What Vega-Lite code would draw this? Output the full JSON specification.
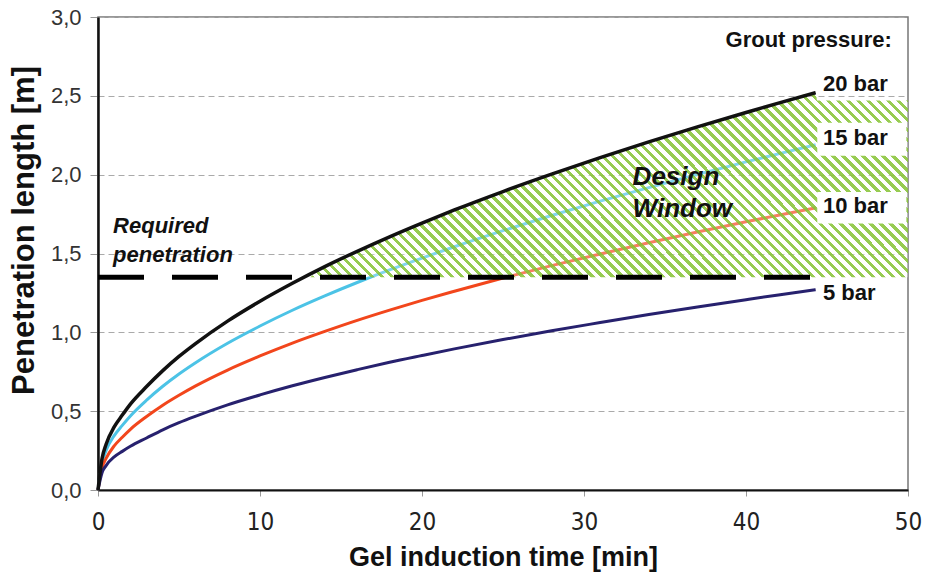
{
  "$schema": "https://vega.github.io/schema/vega-lite/v6.json",
  "width": 810,
  "height": 473,
  "autosize": {"type": "none"},
  "padding": {"left": 98, "top": 17, "right": 18, "bottom": 85},
  "background": "white",
  "config": {"view": {"stroke": "#777", "strokeWidth": 1.5}, "font": "Liberation Sans"},
  "datasets": {
    "curves": [
      {"p":"20 bar","t":0,"len":0},{"p":"20 bar","t":0.25,"len":0.2},{"p":"20 bar","t":0.5,"len":0.29},{"p":"20 bar","t":1,"len":0.4},{"p":"20 bar","t":1.5,"len":0.475},{"p":"20 bar","t":2,"len":0.545},{"p":"20 bar","t":3,"len":0.656},{"p":"20 bar","t":4,"len":0.757},{"p":"20 bar","t":5,"len":0.847},{"p":"20 bar","t":6,"len":0.927},{"p":"20 bar","t":8,"len":1.071},{"p":"20 bar","t":10,"len":1.197},{"p":"20 bar","t":12,"len":1.311},{"p":"20 bar","t":14,"len":1.417},{"p":"20 bar","t":16,"len":1.514},{"p":"20 bar","t":18,"len":1.606},{"p":"20 bar","t":20,"len":1.693},{"p":"20 bar","t":22,"len":1.776},{"p":"20 bar","t":25,"len":1.893},{"p":"20 bar","t":28,"len":2.003},{"p":"20 bar","t":31,"len":2.108},{"p":"20 bar","t":34,"len":2.208},{"p":"20 bar","t":37,"len":2.303},{"p":"20 bar","t":40,"len":2.394},{"p":"20 bar","t":42,"len":2.454},{"p":"20 bar","t":44.3,"len":2.52},
      {"p":"15 bar","t":0,"len":0},{"p":"15 bar","t":0.25,"len":0.17},{"p":"15 bar","t":0.5,"len":0.25},{"p":"15 bar","t":1,"len":0.345},{"p":"15 bar","t":1.5,"len":0.41},{"p":"15 bar","t":2,"len":0.47},{"p":"15 bar","t":3,"len":0.57},{"p":"15 bar","t":4,"len":0.658},{"p":"15 bar","t":5,"len":0.736},{"p":"15 bar","t":6,"len":0.806},{"p":"15 bar","t":8,"len":0.931},{"p":"15 bar","t":10,"len":1.04},{"p":"15 bar","t":12,"len":1.14},{"p":"15 bar","t":14,"len":1.231},{"p":"15 bar","t":16,"len":1.316},{"p":"15 bar","t":18,"len":1.396},{"p":"15 bar","t":20,"len":1.471},{"p":"15 bar","t":22,"len":1.543},{"p":"15 bar","t":25,"len":1.645},{"p":"15 bar","t":28,"len":1.741},{"p":"15 bar","t":31,"len":1.832},{"p":"15 bar","t":34,"len":1.918},{"p":"15 bar","t":37,"len":2.001},{"p":"15 bar","t":40,"len":2.081},{"p":"15 bar","t":42,"len":2.132},{"p":"15 bar","t":44.3,"len":2.19},
      {"p":"10 bar","t":0,"len":0},{"p":"10 bar","t":0.25,"len":0.14},{"p":"10 bar","t":0.5,"len":0.2},{"p":"10 bar","t":1,"len":0.28},{"p":"10 bar","t":1.5,"len":0.335},{"p":"10 bar","t":2,"len":0.385},{"p":"10 bar","t":3,"len":0.466},{"p":"10 bar","t":4,"len":0.538},{"p":"10 bar","t":5,"len":0.601},{"p":"10 bar","t":6,"len":0.659},{"p":"10 bar","t":8,"len":0.761},{"p":"10 bar","t":10,"len":0.85},{"p":"10 bar","t":12,"len":0.932},{"p":"10 bar","t":14,"len":1.006},{"p":"10 bar","t":16,"len":1.076},{"p":"10 bar","t":18,"len":1.141},{"p":"10 bar","t":20,"len":1.203},{"p":"10 bar","t":22,"len":1.261},{"p":"10 bar","t":25,"len":1.345},{"p":"10 bar","t":28,"len":1.423},{"p":"10 bar","t":31,"len":1.497},{"p":"10 bar","t":34,"len":1.568},{"p":"10 bar","t":37,"len":1.636},{"p":"10 bar","t":40,"len":1.701},{"p":"10 bar","t":42,"len":1.743},{"p":"10 bar","t":44.3,"len":1.79},
      {"p":"5 bar","t":0,"len":0},{"p":"5 bar","t":0.25,"len":0.11},{"p":"5 bar","t":0.5,"len":0.155},{"p":"5 bar","t":1,"len":0.21},{"p":"5 bar","t":1.5,"len":0.245},{"p":"5 bar","t":2,"len":0.277},{"p":"5 bar","t":3,"len":0.33},{"p":"5 bar","t":4,"len":0.382},{"p":"5 bar","t":5,"len":0.427},{"p":"5 bar","t":6,"len":0.467},{"p":"5 bar","t":8,"len":0.54},{"p":"5 bar","t":10,"len":0.603},{"p":"5 bar","t":12,"len":0.661},{"p":"5 bar","t":14,"len":0.714},{"p":"5 bar","t":16,"len":0.763},{"p":"5 bar","t":18,"len":0.81},{"p":"5 bar","t":20,"len":0.853},{"p":"5 bar","t":22,"len":0.895},{"p":"5 bar","t":25,"len":0.954},{"p":"5 bar","t":28,"len":1.01},{"p":"5 bar","t":31,"len":1.062},{"p":"5 bar","t":34,"len":1.113},{"p":"5 bar","t":37,"len":1.161},{"p":"5 bar","t":40,"len":1.207},{"p":"5 bar","t":42,"len":1.237},{"p":"5 bar","t":44.3,"len":1.27}
    ],
    "hatch": [
      {"t":13.1,"top":1.35,"base":1.35},{"t":14,"top":1.417,"base":1.35},{"t":16,"top":1.514,"base":1.35},{"t":18,"top":1.606,"base":1.35},{"t":20,"top":1.693,"base":1.35},{"t":22,"top":1.776,"base":1.35},{"t":25,"top":1.893,"base":1.35},{"t":28,"top":2.003,"base":1.35},{"t":31,"top":2.108,"base":1.35},{"t":34,"top":2.208,"base":1.35},{"t":37,"top":2.303,"base":1.35},{"t":40,"top":2.394,"base":1.35},{"t":42,"top":2.454,"base":1.35},{"t":44.3,"top":2.52,"base":1.35},{"t":44.4,"top":2.47,"base":1.35},{"t":50,"top":2.47,"base":1.35}
    ],
    "required": [{"t":0,"len":1.35},{"t":44.4,"len":1.35}],
    "boxes": [{"t1":44.4,"t2":49.9,"lo":2.12,"hi":2.33},{"t1":44.4,"t2":49.9,"lo":1.69,"hi":1.89}],
    "plabels": [{"t":44.75,"len":2.53,"label":"20 bar"},{"t":44.75,"len":2.19,"label":"15 bar"},{"t":44.75,"len":1.757,"label":"10 bar"},{"t":44.75,"len":1.205,"label":"5 bar"}],
    "grout": [{"t":49.0,"len":2.81,"label":"Grout pressure:"}],
    "req": [{"t":0.93,"len":1.63,"label":"Required"},{"t":0.93,"len":1.446,"label":"penetration"}],
    "design": [{"t":33.0,"len":1.934,"label":"Design"},{"t":33.0,"len":1.731,"label":"Window"}]
  },
  "layer": [
    {
      "data": {"name": "curves"},
      "transform": [{"filter": "datum.p !== '20 bar'"}],
      "mark": {"type": "line", "interpolate": "monotone", "strokeWidth": 3},
      "encoding": {
        "x": {"field": "t", "type": "quantitative", "title": "Gel induction time [min]", "scale": {"domain": [0, 50], "nice": false},
          "axis": {"values": [0,10,20,30,40,50], "format": "d", "grid": false,
            "tickColor": "#999", "tickSize": 6, "labelPadding": 14, "labelFontSize": 24, "labelFont": "Liberation Sans Narrow, DejaVu Sans Condensed, Liberation Sans",
            "labelColor": "#222", "labelFlush": false, "labelOverlap": false, "domainColor": "#111", "domainWidth": 2,
            "titleFontSize": 27, "titleFontWeight": "bold", "titleColor": "#111", "titleY": 54, "titleBaseline": "top"}},
        "y": {"field": "len", "type": "quantitative", "title": "Penetration length [m]", "scale": {"domain": [0, 3], "nice": false},
          "axis": {"values": [0,0.5,1,1.5,2,2.5,3], "labelExpr": "replace(format(datum.value, '.1f'), '.', ',')",
            "grid": true, "gridColor": "#aaa", "gridDash": [6,4], "gridWidth": 1,
            "tickColor": "#999", "tickSize": 8, "labelPadding": 9, "labelFontSize": 22, "labelColor": "#333", "labelFlush": false, "labelOverlap": false,
            "domainColor": "#111", "domainWidth": 2.5,
            "titleFontSize": 31, "titleFontWeight": "bold", "titleColor": "#111", "titleX": -58, "titleY": 213, "titleBaseline": "bottom"}},
        "color": {"field": "p", "type": "nominal", "scale": {"domain": ["15 bar","10 bar","5 bar"], "range": ["#4cc3e6","#f2461c","#27216e"]}, "legend": null}
      }
    },
    {
      "data": {"name": "hatch"},
      "mark": {"type": "area", "interpolate": "monotone",
        "fill": {"gradient": "linear", "x1": 0, "y1": 1, "x2": 1.1946, "y2": 0.6324, "stops": [
{"offset":0,"color":"rgba(140,198,63,0.9)"},{"offset":0.0058,"color":"rgba(140,198,63,0.9)"},{"offset":0.0058,"color":"rgba(255,255,255,0.3)"},{"offset":0.0128,"color":"rgba(255,255,255,0.3)"},
{"offset":0.0128,"color":"rgba(140,198,63,0.9)"},{"offset":0.0186,"color":"rgba(140,198,63,0.9)"},{"offset":0.0186,"color":"rgba(255,255,255,0.3)"},{"offset":0.0256,"color":"rgba(255,255,255,0.3)"},
{"offset":0.0256,"color":"rgba(140,198,63,0.9)"},{"offset":0.0314,"color":"rgba(140,198,63,0.9)"},{"offset":0.0314,"color":"rgba(255,255,255,0.3)"},{"offset":0.0385,"color":"rgba(255,255,255,0.3)"},
{"offset":0.0385,"color":"rgba(140,198,63,0.9)"},{"offset":0.0442,"color":"rgba(140,198,63,0.9)"},{"offset":0.0442,"color":"rgba(255,255,255,0.3)"},{"offset":0.0513,"color":"rgba(255,255,255,0.3)"},
{"offset":0.0513,"color":"rgba(140,198,63,0.9)"},{"offset":0.0571,"color":"rgba(140,198,63,0.9)"},{"offset":0.0571,"color":"rgba(255,255,255,0.3)"},{"offset":0.0641,"color":"rgba(255,255,255,0.3)"},
{"offset":0.0641,"color":"rgba(140,198,63,0.9)"},{"offset":0.0699,"color":"rgba(140,198,63,0.9)"},{"offset":0.0699,"color":"rgba(255,255,255,0.3)"},{"offset":0.0769,"color":"rgba(255,255,255,0.3)"},
{"offset":0.0769,"color":"rgba(140,198,63,0.9)"},{"offset":0.0827,"color":"rgba(140,198,63,0.9)"},{"offset":0.0827,"color":"rgba(255,255,255,0.3)"},{"offset":0.0897,"color":"rgba(255,255,255,0.3)"},
{"offset":0.0897,"color":"rgba(140,198,63,0.9)"},{"offset":0.0955,"color":"rgba(140,198,63,0.9)"},{"offset":0.0955,"color":"rgba(255,255,255,0.3)"},{"offset":0.1026,"color":"rgba(255,255,255,0.3)"},
{"offset":0.1026,"color":"rgba(140,198,63,0.9)"},{"offset":0.1083,"color":"rgba(140,198,63,0.9)"},{"offset":0.1083,"color":"rgba(255,255,255,0.3)"},{"offset":0.1154,"color":"rgba(255,255,255,0.3)"},
{"offset":0.1154,"color":"rgba(140,198,63,0.9)"},{"offset":0.1212,"color":"rgba(140,198,63,0.9)"},{"offset":0.1212,"color":"rgba(255,255,255,0.3)"},{"offset":0.1282,"color":"rgba(255,255,255,0.3)"},
{"offset":0.1282,"color":"rgba(140,198,63,0.9)"},{"offset":0.134,"color":"rgba(140,198,63,0.9)"},{"offset":0.134,"color":"rgba(255,255,255,0.3)"},{"offset":0.141,"color":"rgba(255,255,255,0.3)"},
{"offset":0.141,"color":"rgba(140,198,63,0.9)"},{"offset":0.1468,"color":"rgba(140,198,63,0.9)"},{"offset":0.1468,"color":"rgba(255,255,255,0.3)"},{"offset":0.1538,"color":"rgba(255,255,255,0.3)"},
{"offset":0.1538,"color":"rgba(140,198,63,0.9)"},{"offset":0.1596,"color":"rgba(140,198,63,0.9)"},{"offset":0.1596,"color":"rgba(255,255,255,0.3)"},{"offset":0.1667,"color":"rgba(255,255,255,0.3)"},
{"offset":0.1667,"color":"rgba(140,198,63,0.9)"},{"offset":0.1724,"color":"rgba(140,198,63,0.9)"},{"offset":0.1724,"color":"rgba(255,255,255,0.3)"},{"offset":0.1795,"color":"rgba(255,255,255,0.3)"},
{"offset":0.1795,"color":"rgba(140,198,63,0.9)"},{"offset":0.1853,"color":"rgba(140,198,63,0.9)"},{"offset":0.1853,"color":"rgba(255,255,255,0.3)"},{"offset":0.1923,"color":"rgba(255,255,255,0.3)"},
{"offset":0.1923,"color":"rgba(140,198,63,0.9)"},{"offset":0.1981,"color":"rgba(140,198,63,0.9)"},{"offset":0.1981,"color":"rgba(255,255,255,0.3)"},{"offset":0.2051,"color":"rgba(255,255,255,0.3)"},
{"offset":0.2051,"color":"rgba(140,198,63,0.9)"},{"offset":0.2109,"color":"rgba(140,198,63,0.9)"},{"offset":0.2109,"color":"rgba(255,255,255,0.3)"},{"offset":0.2179,"color":"rgba(255,255,255,0.3)"},
{"offset":0.2179,"color":"rgba(140,198,63,0.9)"},{"offset":0.2237,"color":"rgba(140,198,63,0.9)"},{"offset":0.2237,"color":"rgba(255,255,255,0.3)"},{"offset":0.2308,"color":"rgba(255,255,255,0.3)"},
{"offset":0.2308,"color":"rgba(140,198,63,0.9)"},{"offset":0.2365,"color":"rgba(140,198,63,0.9)"},{"offset":0.2365,"color":"rgba(255,255,255,0.3)"},{"offset":0.2436,"color":"rgba(255,255,255,0.3)"},
{"offset":0.2436,"color":"rgba(140,198,63,0.9)"},{"offset":0.2494,"color":"rgba(140,198,63,0.9)"},{"offset":0.2494,"color":"rgba(255,255,255,0.3)"},{"offset":0.2564,"color":"rgba(255,255,255,0.3)"},
{"offset":0.2564,"color":"rgba(140,198,63,0.9)"},{"offset":0.2622,"color":"rgba(140,198,63,0.9)"},{"offset":0.2622,"color":"rgba(255,255,255,0.3)"},{"offset":0.2692,"color":"rgba(255,255,255,0.3)"},
{"offset":0.2692,"color":"rgba(140,198,63,0.9)"},{"offset":0.275,"color":"rgba(140,198,63,0.9)"},{"offset":0.275,"color":"rgba(255,255,255,0.3)"},{"offset":0.2821,"color":"rgba(255,255,255,0.3)"},
{"offset":0.2821,"color":"rgba(140,198,63,0.9)"},{"offset":0.2878,"color":"rgba(140,198,63,0.9)"},{"offset":0.2878,"color":"rgba(255,255,255,0.3)"},{"offset":0.2949,"color":"rgba(255,255,255,0.3)"},
{"offset":0.2949,"color":"rgba(140,198,63,0.9)"},{"offset":0.3006,"color":"rgba(140,198,63,0.9)"},{"offset":0.3006,"color":"rgba(255,255,255,0.3)"},{"offset":0.3077,"color":"rgba(255,255,255,0.3)"},
{"offset":0.3077,"color":"rgba(140,198,63,0.9)"},{"offset":0.3135,"color":"rgba(140,198,63,0.9)"},{"offset":0.3135,"color":"rgba(255,255,255,0.3)"},{"offset":0.3205,"color":"rgba(255,255,255,0.3)"},
{"offset":0.3205,"color":"rgba(140,198,63,0.9)"},{"offset":0.3263,"color":"rgba(140,198,63,0.9)"},{"offset":0.3263,"color":"rgba(255,255,255,0.3)"},{"offset":0.3333,"color":"rgba(255,255,255,0.3)"},
{"offset":0.3333,"color":"rgba(140,198,63,0.9)"},{"offset":0.3391,"color":"rgba(140,198,63,0.9)"},{"offset":0.3391,"color":"rgba(255,255,255,0.3)"},{"offset":0.3462,"color":"rgba(255,255,255,0.3)"},
{"offset":0.3462,"color":"rgba(140,198,63,0.9)"},{"offset":0.3519,"color":"rgba(140,198,63,0.9)"},{"offset":0.3519,"color":"rgba(255,255,255,0.3)"},{"offset":0.359,"color":"rgba(255,255,255,0.3)"},
{"offset":0.359,"color":"rgba(140,198,63,0.9)"},{"offset":0.3647,"color":"rgba(140,198,63,0.9)"},{"offset":0.3647,"color":"rgba(255,255,255,0.3)"},{"offset":0.3718,"color":"rgba(255,255,255,0.3)"},
{"offset":0.3718,"color":"rgba(140,198,63,0.9)"},{"offset":0.3776,"color":"rgba(140,198,63,0.9)"},{"offset":0.3776,"color":"rgba(255,255,255,0.3)"},{"offset":0.3846,"color":"rgba(255,255,255,0.3)"},
{"offset":0.3846,"color":"rgba(140,198,63,0.9)"},{"offset":0.3904,"color":"rgba(140,198,63,0.9)"},{"offset":0.3904,"color":"rgba(255,255,255,0.3)"},{"offset":0.3974,"color":"rgba(255,255,255,0.3)"},
{"offset":0.3974,"color":"rgba(140,198,63,0.9)"},{"offset":0.4032,"color":"rgba(140,198,63,0.9)"},{"offset":0.4032,"color":"rgba(255,255,255,0.3)"},{"offset":0.4103,"color":"rgba(255,255,255,0.3)"},
{"offset":0.4103,"color":"rgba(140,198,63,0.9)"},{"offset":0.416,"color":"rgba(140,198,63,0.9)"},{"offset":0.416,"color":"rgba(255,255,255,0.3)"},{"offset":0.4231,"color":"rgba(255,255,255,0.3)"},
{"offset":0.4231,"color":"rgba(140,198,63,0.9)"},{"offset":0.4288,"color":"rgba(140,198,63,0.9)"},{"offset":0.4288,"color":"rgba(255,255,255,0.3)"},{"offset":0.4359,"color":"rgba(255,255,255,0.3)"},
{"offset":0.4359,"color":"rgba(140,198,63,0.9)"},{"offset":0.4417,"color":"rgba(140,198,63,0.9)"},{"offset":0.4417,"color":"rgba(255,255,255,0.3)"},{"offset":0.4487,"color":"rgba(255,255,255,0.3)"},
{"offset":0.4487,"color":"rgba(140,198,63,0.9)"},{"offset":0.4545,"color":"rgba(140,198,63,0.9)"},{"offset":0.4545,"color":"rgba(255,255,255,0.3)"},{"offset":0.4615,"color":"rgba(255,255,255,0.3)"},
{"offset":0.4615,"color":"rgba(140,198,63,0.9)"},{"offset":0.4673,"color":"rgba(140,198,63,0.9)"},{"offset":0.4673,"color":"rgba(255,255,255,0.3)"},{"offset":0.4744,"color":"rgba(255,255,255,0.3)"},
{"offset":0.4744,"color":"rgba(140,198,63,0.9)"},{"offset":0.4801,"color":"rgba(140,198,63,0.9)"},{"offset":0.4801,"color":"rgba(255,255,255,0.3)"},{"offset":0.4872,"color":"rgba(255,255,255,0.3)"},
{"offset":0.4872,"color":"rgba(140,198,63,0.9)"},{"offset":0.4929,"color":"rgba(140,198,63,0.9)"},{"offset":0.4929,"color":"rgba(255,255,255,0.3)"},{"offset":0.5,"color":"rgba(255,255,255,0.3)"},
{"offset":0.5,"color":"rgba(140,198,63,0.9)"},{"offset":0.5058,"color":"rgba(140,198,63,0.9)"},{"offset":0.5058,"color":"rgba(255,255,255,0.3)"},{"offset":0.5128,"color":"rgba(255,255,255,0.3)"},
{"offset":0.5128,"color":"rgba(140,198,63,0.9)"},{"offset":0.5186,"color":"rgba(140,198,63,0.9)"},{"offset":0.5186,"color":"rgba(255,255,255,0.3)"},{"offset":0.5256,"color":"rgba(255,255,255,0.3)"},
{"offset":0.5256,"color":"rgba(140,198,63,0.9)"},{"offset":0.5314,"color":"rgba(140,198,63,0.9)"},{"offset":0.5314,"color":"rgba(255,255,255,0.3)"},{"offset":0.5385,"color":"rgba(255,255,255,0.3)"},
{"offset":0.5385,"color":"rgba(140,198,63,0.9)"},{"offset":0.5442,"color":"rgba(140,198,63,0.9)"},{"offset":0.5442,"color":"rgba(255,255,255,0.3)"},{"offset":0.5513,"color":"rgba(255,255,255,0.3)"},
{"offset":0.5513,"color":"rgba(140,198,63,0.9)"},{"offset":0.5571,"color":"rgba(140,198,63,0.9)"},{"offset":0.5571,"color":"rgba(255,255,255,0.3)"},{"offset":0.5641,"color":"rgba(255,255,255,0.3)"},
{"offset":0.5641,"color":"rgba(140,198,63,0.9)"},{"offset":0.5699,"color":"rgba(140,198,63,0.9)"},{"offset":0.5699,"color":"rgba(255,255,255,0.3)"},{"offset":0.5769,"color":"rgba(255,255,255,0.3)"},
{"offset":0.5769,"color":"rgba(140,198,63,0.9)"},{"offset":0.5827,"color":"rgba(140,198,63,0.9)"},{"offset":0.5827,"color":"rgba(255,255,255,0.3)"},{"offset":0.5897,"color":"rgba(255,255,255,0.3)"},
{"offset":0.5897,"color":"rgba(140,198,63,0.9)"},{"offset":0.5955,"color":"rgba(140,198,63,0.9)"},{"offset":0.5955,"color":"rgba(255,255,255,0.3)"},{"offset":0.6026,"color":"rgba(255,255,255,0.3)"},
{"offset":0.6026,"color":"rgba(140,198,63,0.9)"},{"offset":0.6083,"color":"rgba(140,198,63,0.9)"},{"offset":0.6083,"color":"rgba(255,255,255,0.3)"},{"offset":0.6154,"color":"rgba(255,255,255,0.3)"},
{"offset":0.6154,"color":"rgba(140,198,63,0.9)"},{"offset":0.6212,"color":"rgba(140,198,63,0.9)"},{"offset":0.6212,"color":"rgba(255,255,255,0.3)"},{"offset":0.6282,"color":"rgba(255,255,255,0.3)"},
{"offset":0.6282,"color":"rgba(140,198,63,0.9)"},{"offset":0.634,"color":"rgba(140,198,63,0.9)"},{"offset":0.634,"color":"rgba(255,255,255,0.3)"},{"offset":0.641,"color":"rgba(255,255,255,0.3)"},
{"offset":0.641,"color":"rgba(140,198,63,0.9)"},{"offset":0.6468,"color":"rgba(140,198,63,0.9)"},{"offset":0.6468,"color":"rgba(255,255,255,0.3)"},{"offset":0.6538,"color":"rgba(255,255,255,0.3)"},
{"offset":0.6538,"color":"rgba(140,198,63,0.9)"},{"offset":0.6596,"color":"rgba(140,198,63,0.9)"},{"offset":0.6596,"color":"rgba(255,255,255,0.3)"},{"offset":0.6667,"color":"rgba(255,255,255,0.3)"},
{"offset":0.6667,"color":"rgba(140,198,63,0.9)"},{"offset":0.6724,"color":"rgba(140,198,63,0.9)"},{"offset":0.6724,"color":"rgba(255,255,255,0.3)"},{"offset":0.6795,"color":"rgba(255,255,255,0.3)"},
{"offset":0.6795,"color":"rgba(140,198,63,0.9)"},{"offset":0.6853,"color":"rgba(140,198,63,0.9)"},{"offset":0.6853,"color":"rgba(255,255,255,0.3)"},{"offset":0.6923,"color":"rgba(255,255,255,0.3)"},
{"offset":0.6923,"color":"rgba(140,198,63,0.9)"},{"offset":0.6981,"color":"rgba(140,198,63,0.9)"},{"offset":0.6981,"color":"rgba(255,255,255,0.3)"},{"offset":0.7051,"color":"rgba(255,255,255,0.3)"},
{"offset":0.7051,"color":"rgba(140,198,63,0.9)"},{"offset":0.7109,"color":"rgba(140,198,63,0.9)"},{"offset":0.7109,"color":"rgba(255,255,255,0.3)"},{"offset":0.7179,"color":"rgba(255,255,255,0.3)"},
{"offset":0.7179,"color":"rgba(140,198,63,0.9)"},{"offset":0.7237,"color":"rgba(140,198,63,0.9)"},{"offset":0.7237,"color":"rgba(255,255,255,0.3)"},{"offset":0.7308,"color":"rgba(255,255,255,0.3)"},
{"offset":0.7308,"color":"rgba(140,198,63,0.9)"},{"offset":0.7365,"color":"rgba(140,198,63,0.9)"},{"offset":0.7365,"color":"rgba(255,255,255,0.3)"},{"offset":0.7436,"color":"rgba(255,255,255,0.3)"},
{"offset":0.7436,"color":"rgba(140,198,63,0.9)"},{"offset":0.7494,"color":"rgba(140,198,63,0.9)"},{"offset":0.7494,"color":"rgba(255,255,255,0.3)"},{"offset":0.7564,"color":"rgba(255,255,255,0.3)"},
{"offset":0.7564,"color":"rgba(140,198,63,0.9)"},{"offset":0.7622,"color":"rgba(140,198,63,0.9)"},{"offset":0.7622,"color":"rgba(255,255,255,0.3)"},{"offset":0.7692,"color":"rgba(255,255,255,0.3)"},
{"offset":0.7692,"color":"rgba(140,198,63,0.9)"},{"offset":0.775,"color":"rgba(140,198,63,0.9)"},{"offset":0.775,"color":"rgba(255,255,255,0.3)"},{"offset":0.7821,"color":"rgba(255,255,255,0.3)"},
{"offset":0.7821,"color":"rgba(140,198,63,0.9)"},{"offset":0.7878,"color":"rgba(140,198,63,0.9)"},{"offset":0.7878,"color":"rgba(255,255,255,0.3)"},{"offset":0.7949,"color":"rgba(255,255,255,0.3)"},
{"offset":0.7949,"color":"rgba(140,198,63,0.9)"},{"offset":0.8006,"color":"rgba(140,198,63,0.9)"},{"offset":0.8006,"color":"rgba(255,255,255,0.3)"},{"offset":0.8077,"color":"rgba(255,255,255,0.3)"},
{"offset":0.8077,"color":"rgba(140,198,63,0.9)"},{"offset":0.8135,"color":"rgba(140,198,63,0.9)"},{"offset":0.8135,"color":"rgba(255,255,255,0.3)"},{"offset":0.8205,"color":"rgba(255,255,255,0.3)"},
{"offset":0.8205,"color":"rgba(140,198,63,0.9)"},{"offset":0.8263,"color":"rgba(140,198,63,0.9)"},{"offset":0.8263,"color":"rgba(255,255,255,0.3)"},{"offset":0.8333,"color":"rgba(255,255,255,0.3)"},
{"offset":0.8333,"color":"rgba(140,198,63,0.9)"},{"offset":0.8391,"color":"rgba(140,198,63,0.9)"},{"offset":0.8391,"color":"rgba(255,255,255,0.3)"},{"offset":0.8462,"color":"rgba(255,255,255,0.3)"},
{"offset":0.8462,"color":"rgba(140,198,63,0.9)"},{"offset":0.8519,"color":"rgba(140,198,63,0.9)"},{"offset":0.8519,"color":"rgba(255,255,255,0.3)"},{"offset":0.859,"color":"rgba(255,255,255,0.3)"},
{"offset":0.859,"color":"rgba(140,198,63,0.9)"},{"offset":0.8647,"color":"rgba(140,198,63,0.9)"},{"offset":0.8647,"color":"rgba(255,255,255,0.3)"},{"offset":0.8718,"color":"rgba(255,255,255,0.3)"},
{"offset":0.8718,"color":"rgba(140,198,63,0.9)"},{"offset":0.8776,"color":"rgba(140,198,63,0.9)"},{"offset":0.8776,"color":"rgba(255,255,255,0.3)"},{"offset":0.8846,"color":"rgba(255,255,255,0.3)"},
{"offset":0.8846,"color":"rgba(140,198,63,0.9)"},{"offset":0.8904,"color":"rgba(140,198,63,0.9)"},{"offset":0.8904,"color":"rgba(255,255,255,0.3)"},{"offset":0.8974,"color":"rgba(255,255,255,0.3)"},
{"offset":0.8974,"color":"rgba(140,198,63,0.9)"},{"offset":0.9032,"color":"rgba(140,198,63,0.9)"},{"offset":0.9032,"color":"rgba(255,255,255,0.3)"},{"offset":0.9103,"color":"rgba(255,255,255,0.3)"},
{"offset":0.9103,"color":"rgba(140,198,63,0.9)"},{"offset":0.916,"color":"rgba(140,198,63,0.9)"},{"offset":0.916,"color":"rgba(255,255,255,0.3)"},{"offset":0.9231,"color":"rgba(255,255,255,0.3)"},
{"offset":0.9231,"color":"rgba(140,198,63,0.9)"},{"offset":0.9288,"color":"rgba(140,198,63,0.9)"},{"offset":0.9288,"color":"rgba(255,255,255,0.3)"},{"offset":0.9359,"color":"rgba(255,255,255,0.3)"},
{"offset":0.9359,"color":"rgba(140,198,63,0.9)"},{"offset":0.9417,"color":"rgba(140,198,63,0.9)"},{"offset":0.9417,"color":"rgba(255,255,255,0.3)"},{"offset":0.9487,"color":"rgba(255,255,255,0.3)"},
{"offset":0.9487,"color":"rgba(140,198,63,0.9)"},{"offset":0.9545,"color":"rgba(140,198,63,0.9)"},{"offset":0.9545,"color":"rgba(255,255,255,0.3)"},{"offset":0.9615,"color":"rgba(255,255,255,0.3)"},
{"offset":0.9615,"color":"rgba(140,198,63,0.9)"},{"offset":0.9673,"color":"rgba(140,198,63,0.9)"},{"offset":0.9673,"color":"rgba(255,255,255,0.3)"},{"offset":0.9744,"color":"rgba(255,255,255,0.3)"},
{"offset":0.9744,"color":"rgba(140,198,63,0.9)"},{"offset":0.9801,"color":"rgba(140,198,63,0.9)"},{"offset":0.9801,"color":"rgba(255,255,255,0.3)"},{"offset":0.9872,"color":"rgba(255,255,255,0.3)"},
{"offset":0.9872,"color":"rgba(140,198,63,0.9)"},{"offset":0.9929,"color":"rgba(140,198,63,0.9)"},{"offset":0.9929,"color":"rgba(255,255,255,0.3)"},{"offset":1,"color":"rgba(255,255,255,0.3)"}
        ]}},
      "encoding": {
        "x": {"field": "t", "type": "quantitative", "title": "Gel induction time [min]"},
        "y": {"field": "top", "type": "quantitative", "title": "Penetration length [m]"},
        "y2": {"field": "base"}
      }
    },
    {
      "data": {"name": "boxes"},
      "mark": {"type": "rect", "fill": "white"},
      "encoding": {
        "x": {"field": "t1", "type": "quantitative", "title": "Gel induction time [min]"},
        "x2": {"field": "t2"},
        "y": {"field": "lo", "type": "quantitative", "title": "Penetration length [m]"},
        "y2": {"field": "hi"}
      }
    },
    {
      "data": {"name": "curves"},
      "transform": [{"filter": "datum.p === '20 bar'"}],
      "mark": {"type": "line", "interpolate": "monotone", "strokeWidth": 3.5, "color": "#111"},
      "encoding": {
        "x": {"field": "t", "type": "quantitative", "title": "Gel induction time [min]"},
        "y": {"field": "len", "type": "quantitative", "title": "Penetration length [m]"}
      }
    },
    {
      "data": {"name": "required"},
      "mark": {"type": "line", "strokeWidth": 5, "strokeDash": [46, 28], "strokeCap": "butt", "color": "#000"},
      "encoding": {
        "x": {"field": "t", "type": "quantitative", "title": "Gel induction time [min]"},
        "y": {"field": "len", "type": "quantitative", "title": "Penetration length [m]"}
      }
    },
    {
      "data": {"name": "plabels"},
      "mark": {"type": "text", "align": "left", "baseline": "alphabetic", "fontWeight": "bold", "fontSize": 22, "color": "#111"},
      "encoding": {
        "x": {"field": "t", "type": "quantitative", "title": "Gel induction time [min]"},
        "y": {"field": "len", "type": "quantitative", "title": "Penetration length [m]"},
        "text": {"field": "label"}
      }
    },
    {
      "data": {"name": "grout"},
      "mark": {"type": "text", "align": "right", "baseline": "alphabetic", "fontWeight": "bold", "fontSize": 22, "color": "#111"},
      "encoding": {
        "x": {"field": "t", "type": "quantitative", "title": "Gel induction time [min]"},
        "y": {"field": "len", "type": "quantitative", "title": "Penetration length [m]"},
        "text": {"field": "label"}
      }
    },
    {
      "data": {"name": "req"},
      "mark": {"type": "text", "align": "left", "baseline": "alphabetic", "fontWeight": "bold", "fontStyle": "italic", "fontSize": 22, "color": "#111"},
      "encoding": {
        "x": {"field": "t", "type": "quantitative", "title": "Gel induction time [min]"},
        "y": {"field": "len", "type": "quantitative", "title": "Penetration length [m]"},
        "text": {"field": "label"}
      }
    },
    {
      "data": {"name": "design"},
      "mark": {"type": "text", "align": "left", "baseline": "alphabetic", "fontWeight": "bold", "fontStyle": "italic", "fontSize": 26, "color": "#111"},
      "encoding": {
        "x": {"field": "t", "type": "quantitative", "title": "Gel induction time [min]"},
        "y": {"field": "len", "type": "quantitative", "title": "Penetration length [m]"},
        "text": {"field": "label"}
      }
    }
  ]
}
